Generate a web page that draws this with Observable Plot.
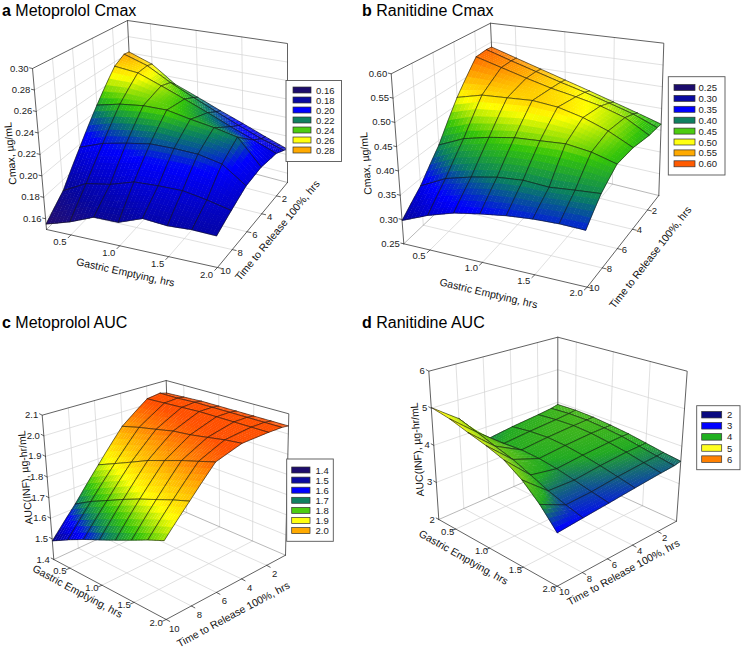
<!DOCTYPE html>
<html><head><meta charset="utf-8">
<script src="https://cdn.jsdelivr.net/npm/d3@7"></script>
<script src="https://cdn.jsdelivr.net/npm/@observablehq/plot@0.6"></script>
<style>
body{margin:0;background:#fff;font-family:"Liberation Sans",Arial,sans-serif;}
#wrap{position:relative;width:741px;height:648px;overflow:hidden;}
#wrap svg{position:absolute;left:0;top:0;}
.ttl{position:absolute;font-size:16px;line-height:16px;white-space:nowrap;color:#000;z-index:2;}
</style></head><body><div id="wrap"></div>
<script>
// ---------- data ----------
const gastricEmptying = [0.25, 0.5, 0.75, 1.0, 1.25, 1.5, 1.75, 2.0];
const releaseTime = [0.5, 1, 2, 4, 6, 8, 10];
const gastricTicks = [0.5, 1.0, 1.5, 2.0];
const releaseTicks = [2, 4, 6, 8, 10];

const metoprololCmaxTicks = [0.16, 0.18, 0.20, 0.22, 0.24, 0.26, 0.28, 0.30];
const ranitidineCmaxTicks = [0.25, 0.30, 0.35, 0.40, 0.45, 0.50, 0.55, 0.60];
const metoprololAucTicks = [1.4, 1.5, 1.6, 1.7, 1.8, 1.9, 2.0, 2.1];
const ranitidineAucTicks = [2, 3, 4, 5, 6];

const metoprololCmaxLegend = [0.16, 0.18, 0.20, 0.22, 0.24, 0.26, 0.28];
const ranitidineCmaxLegend = [0.25, 0.30, 0.35, 0.40, 0.45, 0.50, 0.55, 0.60];
const metoprololAucLegend = [1.4, 1.5, 1.6, 1.7, 1.8, 1.9, 2.0];
const ranitidineAucLegend = [2, 3, 4, 5, 6];

// one row per releaseTime, one column per gastricEmptying
const metoprololCmax = [
  [0.261, 0.251, 0.232, 0.222, 0.212, 0.203, 0.194, 0.186],
  [0.262, 0.253, 0.238, 0.226, 0.215, 0.205, 0.196, 0.189],
  [0.255, 0.252, 0.242, 0.232, 0.222, 0.212, 0.203, 0.194],
  [0.226, 0.232, 0.235, 0.235, 0.230, 0.226, 0.221, 0.196],
  [0.197, 0.206, 0.211, 0.215, 0.215, 0.214, 0.209, 0.193],
  [0.170, 0.182, 0.186, 0.193, 0.194, 0.194, 0.190, 0.185],
  [0.155, 0.162, 0.171, 0.171, 0.179, 0.177, 0.178, 0.177]
];
const ranitidineCmax = [
  [0.537, 0.517, 0.498, 0.480, 0.463, 0.446, 0.430, 0.414],
  [0.538, 0.518, 0.500, 0.483, 0.468, 0.452, 0.436, 0.415],
  [0.535, 0.517, 0.500, 0.485, 0.474, 0.462, 0.445, 0.415],
  [0.467, 0.482, 0.485, 0.488, 0.482, 0.468, 0.448, 0.422],
  [0.390, 0.415, 0.428, 0.437, 0.440, 0.443, 0.435, 0.420],
  [0.335, 0.362, 0.376, 0.386, 0.390, 0.386, 0.390, 0.393],
  [0.298, 0.320, 0.336, 0.345, 0.352, 0.356, 0.357, 0.355]
];
const metoprololAuc = [
  [2.030, 2.035, 2.040, 2.040, 2.040, 2.040, 2.040, 2.040],
  [2.040, 2.040, 2.045, 2.045, 2.045, 2.045, 2.045, 2.045],
  [2.030, 2.035, 2.040, 2.045, 2.045, 2.045, 2.045, 2.045],
  [1.925, 1.950, 1.970, 1.990, 2.000, 2.015, 2.030, 2.040],
  [1.770, 1.810, 1.850, 1.890, 1.920, 1.950, 1.975, 2.000],
  [1.620, 1.670, 1.710, 1.750, 1.785, 1.815, 1.845, 1.870],
  [1.490, 1.535, 1.575, 1.610, 1.645, 1.680, 1.715, 1.745]
];
const ranitidineAuc = [
  [3.93, 3.95, 3.93, 3.88, 3.82, 3.74, 3.66, 3.60],
  [3.88, 3.92, 3.92, 3.88, 3.82, 3.73, 3.64, 3.56],
  [3.83, 3.88, 3.90, 3.87, 3.80, 3.72, 3.62, 3.53],
  [3.75, 3.82, 3.85, 3.82, 3.75, 3.66, 3.56, 3.46],
  [3.65, 3.75, 3.78, 3.75, 3.68, 3.58, 3.48, 3.39],
  [4.49, 4.32, 4.15, 4.00, 3.80, 3.60, 3.45, 3.33],
  [5.02, 4.92, 4.76, 4.62, 4.45, 4.15, 3.75, 3.27]
];

// ---------- styles / layout ----------
const pal = {indigo:"#26106f", navy:"#0505a0", blue:"#0000ff", teal:"#0a8060", green:"#33c40a", yellow:"#ffff00", orange:"#ffa500", red:"#ff5000"};
const eightColors = [pal.indigo, pal.navy, pal.blue, pal.teal, pal.green, pal.yellow, pal.orange, pal.red];
const swatchSeven = ["#1c0c6c","#0a0aa0","#0000ff","#108060","#4ccc10","#ffff10","#ffaa00"];

const panels = [
  {letter:"a", name:"Metoprolol Cmax", titlePos:[2,3],
   values: metoprololCmax, zTicks: metoprololCmaxTicks, zDomain:[0.15,0.30], fmt: d3.format(".2f"), zLabel:"Cmax, µg/mL",
   box:{back:[[133,141],[127,20]], right:[[287,182],[287,43]], left:[[46,229],[32,68]], front:[[217,267],[212,92]]},
   stops:[0.155,0.175,0.205,0.222,0.232,0.248,0.262,0.28], colors: eightColors,
   legend: metoprololCmaxLegend, legendColors: swatchSeven,
   legendBox:[286,80.5,341.5,161.5], legendRow:{x:293, w:18, h:6, y0:90, dy:10, tx:315.5},
   geOff:[-11,7], tOff:[8,3], zTitle:[10,153], geTitle:[125,272], tTitle:[277,230]},
  {letter:"b", name:"Ranitidine Cmax", titlePos:[362,3],
   values: ranitidineCmax, zTicks: ranitidineCmaxTicks, zDomain:[0.25,0.60], fmt: d3.format(".2f"), zLabel:"Cmax, µg/mL",
   box:{back:[[496,155],[490,22.7]], right:[[658.3,195],[663.3,42.7]], left:[[403.3,243.3],[390.7,73.3]], front:[[586.7,286.7],[582,97]]},
   stops:[0.27,0.30,0.345,0.385,0.425,0.468,0.505,0.55], colors: eightColors,
   legend: ranitidineCmaxLegend, legendColors: [...swatchSeven, "#ff5a00"],
   legendBox:[668.3,76.7,725,175], legendRow:{x:674, w:21, h:6, y0:87.5, dy:10.9, tx:698},
   geOff:[-11,6], tOff:[7,1], zTitle:[365.5,163], geTitle:[488,293], tTitle:[650,257]},
  {letter:"c", name:"Metoprolol AUC", titlePos:[2,315],
   values: metoprololAuc, zTicks: metoprololAucTicks, zDomain:[1.4,2.1], fmt: d3.format(".1f"), zLabel:"AUC(INF), µg-hr/mL",
   box:{back:[[169.7,505],[165.7,380]], right:[[285,554.7],[288.3,413.3]], left:[[53.3,559],[41.7,414.7]], front:[[165.7,619],[161.7,459]]},
   stops:[1.47,1.51,1.575,1.635,1.70,1.80,1.92,2.02], colors: eightColors,
   legend: metoprololAucLegend, legendColors: swatchSeven,
   legendBox:[286.7,459,333.3,541.3], legendRow:{x:291.7, w:18.3, h:6, y0:470, dy:10.1, tx:315},
   geOff:[-10,3], tOff:[8,9], zTitle:[25,477], geTitle:[77,591], tTitle:[233,614]},
  {letter:"d", name:"Ranitidine AUC", titlePos:[362,315],
   values: ranitidineAuc, zTicks: ranitidineAucTicks, zDomain:[2,6], fmt: d3.format("d"), zLabel:"AUC(INF), µg-hr/mL",
   box:{back:[[557.3,466.7],[557.3,336.7]], right:[[676,520.7],[686.7,370.7]], left:[[438.3,519],[428.3,370.7]], front:[[556.7,585.7],[556.7,417.7]]},
   stops:[2.8,3.3,3.74,4.9,5.25], colors:["#0a0a80","#0000ff","#22aa22","#ffff00","#ff9a00"],
   legend: ranitidineAucLegend, legendColors:["#0a0a80","#0000ff","#20b020","#ffff20","#ff8000"],
   legendBox:[696.7,405.7,740,469.7], legendRow:{x:701.7, w:20, h:6.5, y0:414.7, dy:11.1, tx:726.5},
   geOff:[-8,3], tOff:[7,6], zTitle:[417,449], geTitle:[463,557], tTitle:[623,572]}
];

const geDomain = [gastricEmptying[0], gastricEmptying[gastricEmptying.length-1]];
const tDomain = [releaseTime[0], releaseTime[releaseTime.length-1]];
const SUB = 6;

function projector(box, zDomain) {
  const lerp = (a, b, t) => [a[0] + (b[0]-a[0])*t, a[1] + (b[1]-a[1])*t];
  return (ge, t, z) => {
    const u = (ge - geDomain[0]) / (geDomain[1] - geDomain[0]);
    const v = (t - tDomain[0]) / (tDomain[1] - tDomain[0]);
    const w = (z - zDomain[0]) / (zDomain[1] - zDomain[0]);
    const bot = lerp(lerp(box.back[0], box.right[0], u), lerp(box.left[0], box.front[0], u), v);
    const top = lerp(lerp(box.back[1], box.right[1], u), lerp(box.left[1], box.front[1], u), v);
    const p = lerp(bot, top, w);
    return {x: p[0], y: p[1], depth: bot[1] - top[1]};
  };
}

const gridRows = [], edgeRows = [], wallEdgeRows = [], surfRows = [], tickRows = [];
const zLabelRows = [], labelRows = [], titleRows = [], legendBoxes = [], swatchRows = [], legendText = [];
let pid = 0;

function addLine(target, pts, extra) {
  const id = pid++;
  for (const p of pts) target.push({id, x: p.x, y: p.y, ...extra});
}
// grow a small polygon slightly about its centroid so neighbouring fills overlap (hides seams)
function grow(pts, px) {
  const n = pts.length - 1;
  let cx = 0, cy = 0;
  for (let k = 0; k < n; k++) { cx += pts[k].x; cy += pts[k].y; }
  cx /= n; cy /= n;
  return pts.map(p => {
    const dx = p.x - cx, dy = p.y - cy, l = Math.hypot(dx, dy) || 1;
    return {x: p.x + dx / l * px, y: p.y + dy / l * px};
  });
}

for (const P of panels) {
  const pr = projector(P.box, P.zDomain);
  const [z0, z1] = P.zDomain;
  const [g0, g1] = geDomain, [t0, t1] = tDomain;
  const color = d3.scaleLinear().domain(P.stops).range(P.colors).interpolate(d3.interpolateRgb).clamp(true);

  for (const t of releaseTicks.filter(t => t < t1)) {
    addLine(gridRows, [pr(g0, t, z0), pr(g0, t, z1)]);
    addLine(gridRows, [pr(g0, t, z0), pr(g1, t, z0)]);
  }
  for (const g of gastricTicks.filter(g => g < g1)) {
    addLine(gridRows, [pr(g, t0, z0), pr(g, t0, z1)]);
    addLine(gridRows, [pr(g, t0, z0), pr(g, t1, z0)]);
  }
  for (const z of P.zTicks.filter(z => z > z0 && z < z1)) {
    addLine(gridRows, [pr(g0, t1, z), pr(g0, t0, z), pr(g1, t0, z)]);
  }
  addLine(wallEdgeRows, [pr(g0, t1, z0), pr(g0, t0, z0), pr(g1, t0, z0)]);
  addLine(edgeRows, [pr(g0, t1, z0), pr(g0, t1, z1), pr(g0, t0, z1), pr(g1, t0, z1), pr(g1, t0, z0)]);
  addLine(edgeRows, [pr(g0, t0, z0), pr(g0, t0, z1)]);
  addLine(edgeRows, [pr(g0, t1, z0), pr(g1, t1, z0), pr(g1, t0, z0)]);

  const B = P.box;
  const norm = (a, b) => { const dx = b[0]-a[0], dy = b[1]-a[1], l = Math.hypot(dx, dy); return [dx/l, dy/l]; };
  const outGE = norm(B.back[0], B.left[0]);
  const outT = norm(B.left[0], B.front[0]);
  const outZ = norm(B.front[0], B.left[0]);
  for (const g of gastricTicks) {
    const a = pr(g, t1, z0);
    addLine(tickRows, [a, {x: a.x + outGE[0]*4, y: a.y + outGE[1]*4}]);
    labelRows.push({x: a.x + P.geOff[0], y: a.y + P.geOff[1], text: d3.format(".1f")(g)});
  }
  for (const t of releaseTicks) {
    const a = pr(g1, t, z0);
    addLine(tickRows, [a, {x: a.x + outT[0]*4, y: a.y + outT[1]*4}]);
    labelRows.push({x: a.x + P.tOff[0], y: a.y + P.tOff[1], text: String(t)});
  }
  for (const z of P.zTicks) {
    const a = pr(g0, t1, z);
    addLine(tickRows, [a, {x: a.x + outZ[0]*3, y: a.y + outZ[1]*3}]);
    zLabelRows.push({x: a.x - 4, y: a.y, text: P.fmt(z)});
  }
  const ang = (a, b) => Math.atan2(b.y - a.y, b.x - a.x) * 180 / Math.PI;
  titleRows.push({x: P.zTitle[0], y: P.zTitle[1], text: P.zLabel, rotate: ang(pr(g0, t1, z0), pr(g0, t1, z1))});
  titleRows.push({x: P.geTitle[0], y: P.geTitle[1], text: "Gastric Emptying, hrs", rotate: ang(pr(g0, t1, z0), pr(g1, t1, z0))});
  titleRows.push({x: P.tTitle[0], y: P.tTitle[1], text: "Time to Release 100%, hrs", rotate: ang(pr(g1, t1, z0), pr(g1, t0, z0))});

  const V = P.values;
  const cells = [];
  for (let j = 0; j < releaseTime.length - 1; j++)
    for (let i = 0; i < gastricEmptying.length - 1; i++) {
      const gm = (gastricEmptying[i] + gastricEmptying[i+1]) / 2, tm = (releaseTime[j] + releaseTime[j+1]) / 2;
      cells.push({i, j, depth: pr(gm, tm, z0).depth});
    }
  cells.sort((a, b) => a.depth - b.depth);
  for (const {i, j} of cells) {
    const ga = gastricEmptying[i], gb = gastricEmptying[i+1], ta = releaseTime[j], tb = releaseTime[j+1];
    const zA = V[j][i], zB = V[j][i+1], zC = V[j+1][i], zD = V[j+1][i+1];
    const at = (s, r) => {
      const z = zA*(1-s)*(1-r) + zB*s*(1-r) + zC*(1-s)*r + zD*s*r;
      const p = pr(ga + (gb-ga)*s, ta + (tb-ta)*r, z);
      p.z = z; return p;
    };
    const subs = [];
    for (let a = 0; a < SUB; a++) for (let b = 0; b < SUB; b++) {
      const s0 = a/SUB, s1 = (a+1)/SUB, r0 = b/SUB, r1 = (b+1)/SUB;
      const c = at((s0+s1)/2, (r0+r1)/2);
      subs.push({pts: [at(s0,r0), at(s1,r0), at(s1,r1), at(s0,r1), at(s0,r0)], col: color(c.z), depth: c.depth});
    }
    subs.sort((p, q) => p.depth - q.depth);
    for (const s of subs) addLine(surfRows, grow(s.pts, 0.35), {fill: s.col, stroke: "none", sw: 0});
    const outline = [];
    for (let k = 0; k <= SUB; k++) outline.push(at(k/SUB, 0));
    for (let k = 1; k <= SUB; k++) outline.push(at(1, k/SUB));
    for (let k = SUB - 1; k >= 0; k--) outline.push(at(k/SUB, 1));
    for (let k = SUB - 1; k >= 0; k--) outline.push(at(0, k/SUB));
    addLine(surfRows, outline, {fill: "none", stroke: "#151515", sw: 0.6});
  }

  legendBoxes.push({x1: P.legendBox[0], y1: P.legendBox[1], x2: P.legendBox[2], y2: P.legendBox[3]});
  const L = P.legendRow;
  P.legend.forEach((val, k) => {
    const yc = L.y0 + k * L.dy;
    swatchRows.push({x1: L.x, x2: L.x + L.w, y1: yc - L.h/2, y2: yc + L.h/2, fill: P.legendColors[k]});
    legendText.push({x: L.tx, y: yc, text: P.fmt(val)});
  });
}

const font = "Liberation Sans, Arial, Helvetica, sans-serif";
const chart = Plot.plot({
  width: 741, height: 648, margin: 0,
  x: {type: "identity", axis: null},
  y: {type: "identity", axis: null},
  color: {type: "identity"},
  style: {fontFamily: font, background: "white", overflow: "visible"},
  marks: [
    Plot.line(gridRows, {x: "x", y: "y", z: "id", stroke: "#d2d2d2", strokeWidth: 0.7}),
    Plot.line(wallEdgeRows, {x: "x", y: "y", z: "id", stroke: "#9a9a9a", strokeWidth: 0.7}),
    Plot.line(edgeRows, {x: "x", y: "y", z: "id", stroke: "#3a3a3a", strokeWidth: 0.8}),
    Plot.line(tickRows, {x: "x", y: "y", z: "id", stroke: "#3a3a3a", strokeWidth: 0.8}),
    Plot.line(surfRows, {x: "x", y: "y", z: "id", fill: "fill", stroke: "stroke", strokeWidth: "sw", strokeLinejoin: "round"}),
    Plot.text(zLabelRows, {x: "x", y: "y", text: "text", textAnchor: "end", fontSize: 9.5, fill: "#222"}),
    Plot.text(labelRows, {x: "x", y: "y", text: "text", fontSize: 9.5, fill: "#222"}),
    Plot.text(titleRows, {x: "x", y: "y", text: "text", rotate: "rotate", fontSize: 10.5, fill: "#111"}),
    Plot.rect(legendBoxes, {x1: "x1", x2: "x2", y1: "y1", y2: "y2", fill: "white", stroke: "#555", strokeWidth: 0.9}),
    Plot.rect(swatchRows, {x1: "x1", x2: "x2", y1: "y1", y2: "y2", fill: "fill", stroke: "#333", strokeWidth: 0.7}),
    Plot.text(legendText, {x: "x", y: "y", text: "text", textAnchor: "start", fontSize: 9.5, fill: "#222"})
  ]
});
const wrap = document.getElementById("wrap");
wrap.appendChild(chart);
for (const P of panels) {
  const d = document.createElement("div");
  d.className = "ttl";
  d.style.left = P.titlePos[0] + "px";
  d.style.top = P.titlePos[1] + "px";
  const b = document.createElement("b");
  b.textContent = P.letter;
  d.appendChild(b);
  d.appendChild(document.createTextNode(" " + P.name));
  wrap.appendChild(d);
}
</script></body></html>
